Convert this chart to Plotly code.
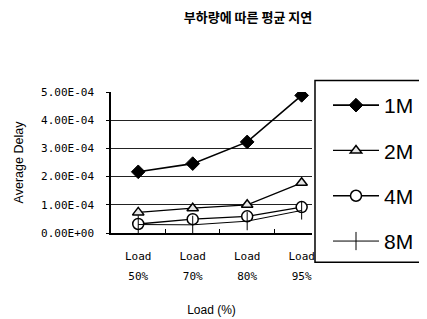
import plotly.graph_objects as go

loads = ["50%", "70%", "80%", "95%"]
load_word = "Load"
series_names = ["1M", "2M", "4M", "8M"]
delay_1m = [2.17e-4, 2.46e-4, 3.23e-4, 4.88e-4]
delay_2m = [0.73e-4, 0.88e-4, 1.00e-4, 1.78e-4]
delay_4m = [0.32e-4, 0.49e-4, 0.59e-4, 0.92e-4]
delay_8m = [0.30e-4, 0.29e-4, 0.42e-4, 0.80e-4]
y_ticks = [0, 1e-4, 2e-4, 3e-4, 4e-4, 5e-4]
y_ticktext = ["0.00E+00", "1.00E-04", "2.00E-04", "3.00E-04", "4.00E-04", "5.00E-04"]

xs = list(range(len(loads)))
markers = [
    dict(symbol="diamond", size=10.5, color="black", line=dict(color="black", width=1)),
    dict(symbol="triangle-up", size=10, color="#e6e6e6", line=dict(color="black", width=1.5)),
    dict(symbol="circle", size=11, color="white", line=dict(color="black", width=1.5)),
    dict(symbol="line-ns", size=13, color="black", line=dict(color="black", width=1)),
]
line_w = [1.6, 1.3, 1.3, 1.0]

fig = go.Figure()
for i, (name, vals) in enumerate(zip(series_names, [delay_1m, delay_2m, delay_4m, delay_8m])):
    fig.add_trace(go.Scatter(
        x=xs, y=vals, name=name, mode="lines+markers",
        line=dict(color="black", width=line_w[i]),
        marker=markers[i], legendgroup=name,
    ))
# invisible helper trace so the second row of x tick labels is drawn
fig.add_trace(go.Scatter(x=xs, y=delay_1m, xaxis="x2", mode="markers", marker=dict(opacity=0),
                         showlegend=False, hoverinfo="skip"))

xr = [-0.5, 3.19]
tickfont = dict(family="DejaVu Sans Mono", size=11, color="black")

# page has an 8px body margin: figure is 419x311 and placed at (8, 8)
W, H = 419, 311

fig.update_layout(
    width=W, height=H,
    margin=dict(l=102.5, r=115, t=83.5, b=85.5),
    paper_bgcolor="white", plot_bgcolor="white",
    title=dict(text="<b>부하량에 따른 평균 지연</b>", x=240/W, xref="container", xanchor="center",
               y=1 - 9/H, yref="container", yanchor="middle",
               font=dict(family="Noto Sans CJK KR", size=13, color="black")),
    xaxis=dict(range=xr, tickmode="array", tickvals=xs, ticktext=[load_word]*len(loads),
               ticks="", showgrid=False, zeroline=False, showline=True, linecolor="black", linewidth=1.5,
               tickfont=tickfont, ticklabelstandoff=12, automargin=False,
               minor=dict(tickmode="array", tickvals=[0.5, 1.5, 2.5], ticks="inside", ticklen=4,
                          tickcolor="black", tickwidth=1, showgrid=False),
               title=dict(text="Load (%)", font=dict(family="Liberation Sans", size=12, color="black"),
                          standoff=44)),
    xaxis2=dict(range=xr, overlaying="x", anchor="y", side="bottom", tickmode="array",
                tickvals=xs, ticktext=loads, ticks="", showgrid=False, zeroline=False, showline=False,
                tickfont=tickfont, ticklabelstandoff=35, automargin=False),
    yaxis=dict(range=[0, 5e-4], tickmode="array", tickvals=y_ticks, ticktext=y_ticktext,
               ticks="outside", ticklen=3, tickcolor="black", showgrid=True, gridcolor="#222",
               gridwidth=1.3, zeroline=False, showline=True, linecolor="black", linewidth=1.5,
               tickfont=tickfont, ticklabelstandoff=10, automargin=False,
               title=dict(text="Average Delay", font=dict(family="Liberation Sans", size=12.5, color="black"),
                          standoff=15)),
    legend=dict(x=320/W, xref="container", xanchor="left", y=1 - 77/H, yref="container",
                yanchor="top", bgcolor="rgba(0,0,0,0)", borderwidth=0, tracegroupgap=15,
                itemwidth=46, maxheight=1, font=dict(family="Liberation Sans", size=21, color="black")),
    shapes=[dict(type="rect", xref="paper", yref="paper", x0=(315-110.5)/201.5, x1=1.8,
                 y0=(233.5-263)/142, y1=(233.5-80)/142, line=dict(color="black", width=1.5),
                 fillcolor="rgba(0,0,0,0)", layer="above")],
)

fig.write_html("out.html")
